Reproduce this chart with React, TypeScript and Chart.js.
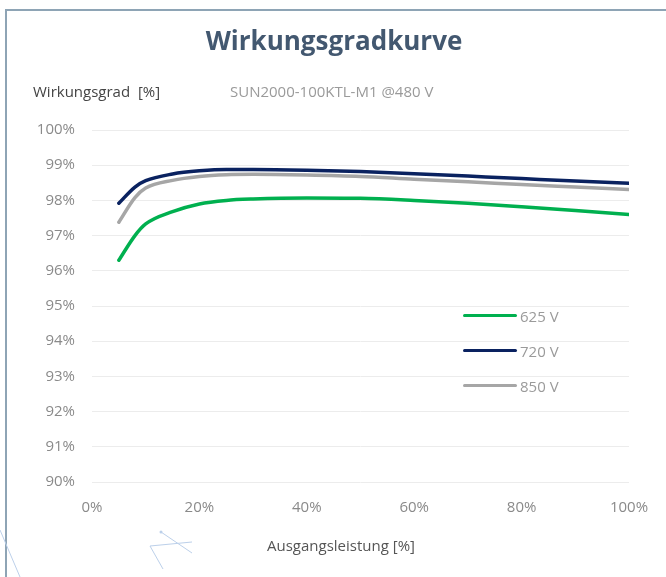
import React, { useEffect, useRef } from "react";
import { Chart, registerables } from "chart.js";

Chart.register(...registerables);

const loadPct = [5, 8, 10, 15, 20, 25, 30, 40, 50, 60, 70, 80, 90, 100];
const eff625 = [96.3, 97.0, 97.33, 97.68, 97.9, 98.0, 98.04, 98.07, 98.06, 98.0, 97.92, 97.82, 97.71, 97.6];
const eff720 = [97.92, 98.38, 98.56, 98.75, 98.84, 98.88, 98.88, 98.86, 98.82, 98.76, 98.69, 98.62, 98.55, 98.49];
const eff850 = [97.38, 98.08, 98.35, 98.57, 98.68, 98.73, 98.74, 98.72, 98.68, 98.6, 98.53, 98.45, 98.38, 98.31];

const seriesLabels = ["625 V", "720 V", "850 V"];
const seriesColors = ["#00b04f", "#0a2260", "#a6a6a6"];
const seriesValues = [eff625, eff720, eff850];

const xTicks = [0, 20, 40, 60, 80, 100];
const yMin = 90;
const yMax = 100;

const titleText = "Wirkungsgradkurve";
const yAxisText = "Wirkungsgrad  [%]";
const modelText = "SUN2000-100KTL-M1 @480 V";
const xAxisText = "Ausgangsleistung [%]";

const FONT = "'Open Sans', 'Noto Sans', sans-serif";

export default function App() {
  const ref = useRef<HTMLCanvasElement | null>(null);

  useEffect(() => {
    if (!ref.current) return;
    const chart = new Chart(ref.current, {
      type: "line",
      data: {
        datasets: seriesLabels.map((label, i) => ({
          label,
          data: loadPct.map((x, j) => ({ x, y: seriesValues[i][j] })),
          borderColor: seriesColors[i],
          backgroundColor: seriesColors[i],
          borderWidth: 3.5,
          pointRadius: 0,
          cubicInterpolationMode: "monotone" as const,
          borderCapStyle: "round" as const,
          fill: false,
        })),
      },
      options: {
        responsive: false,
        animation: false,
        layout: { padding: { left: 0, right: 37, top: 130, bottom: 0 } },
        plugins: { legend: { display: false }, tooltip: { enabled: false }, title: { display: false } },
        scales: {
          x: {
            type: "linear",
            min: xTicks[0],
            max: xTicks[xTicks.length - 1],
            afterBuildTicks: (s: any) => {
              s.ticks = xTicks.map((v) => ({ value: v }));
            },
            afterFit: (s: any) => {
              s.height = 95;
            },
            grid: { display: false, drawTicks: false },
            border: { display: false },
            ticks: {
              callback: (v: any) => v + "%",
              color: "#8a8a8a",
              font: { family: FONT, size: 15 },
              padding: 17,
              maxRotation: 0,
            },
          },
          y: {
            min: yMin,
            max: yMax,
            afterFit: (s: any) => {
              s.width = 92;
            },
            grid: { color: "#ececec", lineWidth: 1, drawTicks: false },
            border: { display: false },
            ticks: {
              stepSize: 1,
              callback: (v: any) => v + "%",
              color: "#8a8a8a",
              font: { family: FONT, size: 15 },
              padding: 17,
            },
          },
        },
      },
    });
    return () => chart.destroy();
  }, []);

  return (
    <div style={{ position: "fixed", left: 0, top: 0, width: 666, height: 577, background: "#fff", overflow: "hidden", fontFamily: FONT }}>
      <div style={{ position: "absolute", left: 5, top: 9, width: 700, height: 600, borderTop: "2px solid #8ea4b5", borderLeft: "2px solid #8ea4b5" }} />
      <svg width={666} height={577} style={{ position: "absolute", left: 0, top: 0 }}>
        <g stroke="#bcd0ea" strokeWidth={1} fill="none">
          <line x1={0} y1={530} x2={20} y2={577} />
          <line x1={161} y1={532} x2={192} y2={553} />
          <line x1={150} y1={546} x2={192} y2={542} />
          <line x1={150} y1={546} x2={163} y2={569} />
        </g>
        <circle cx={161} cy={532} r={1.5} fill="#bcd0ea" />
      </svg>
      <canvas ref={ref} width={666} height={577} style={{ position: "absolute", left: 0, top: 0 }} />
      <div style={{ position: "absolute", left: 0, width: 668, top: 23, textAlign: "center", fontSize: 26, fontWeight: 700, color: "#435870", lineHeight: "34px" }}>
        {titleText}
      </div>
      <div style={{ position: "absolute", left: 33, top: 81, fontSize: 15, color: "#444", lineHeight: "20px", whiteSpace: "pre" }}>{yAxisText}</div>
      <div style={{ position: "absolute", left: 230, top: 81, fontSize: 15, color: "#9a9a9a", lineHeight: "20px" }}>{modelText}</div>
      <div style={{ position: "absolute", left: 267, top: 535, fontSize: 15, color: "#555", lineHeight: "20px" }}>{xAxisText}</div>
      <div style={{ position: "absolute", left: 463, top: 298 }}>
        {seriesLabels.map((label, i) => (
          <div key={label} style={{ display: "flex", alignItems: "center", height: 35 }}>
            <div style={{ width: 54, height: 3.5, borderRadius: 2, background: seriesColors[i] }} />
            <span style={{ marginLeft: 3, fontSize: 15, color: "#9a9a9a", lineHeight: "20px" }}>{label}</span>
          </div>
        ))}
      </div>
    </div>
  );
}
